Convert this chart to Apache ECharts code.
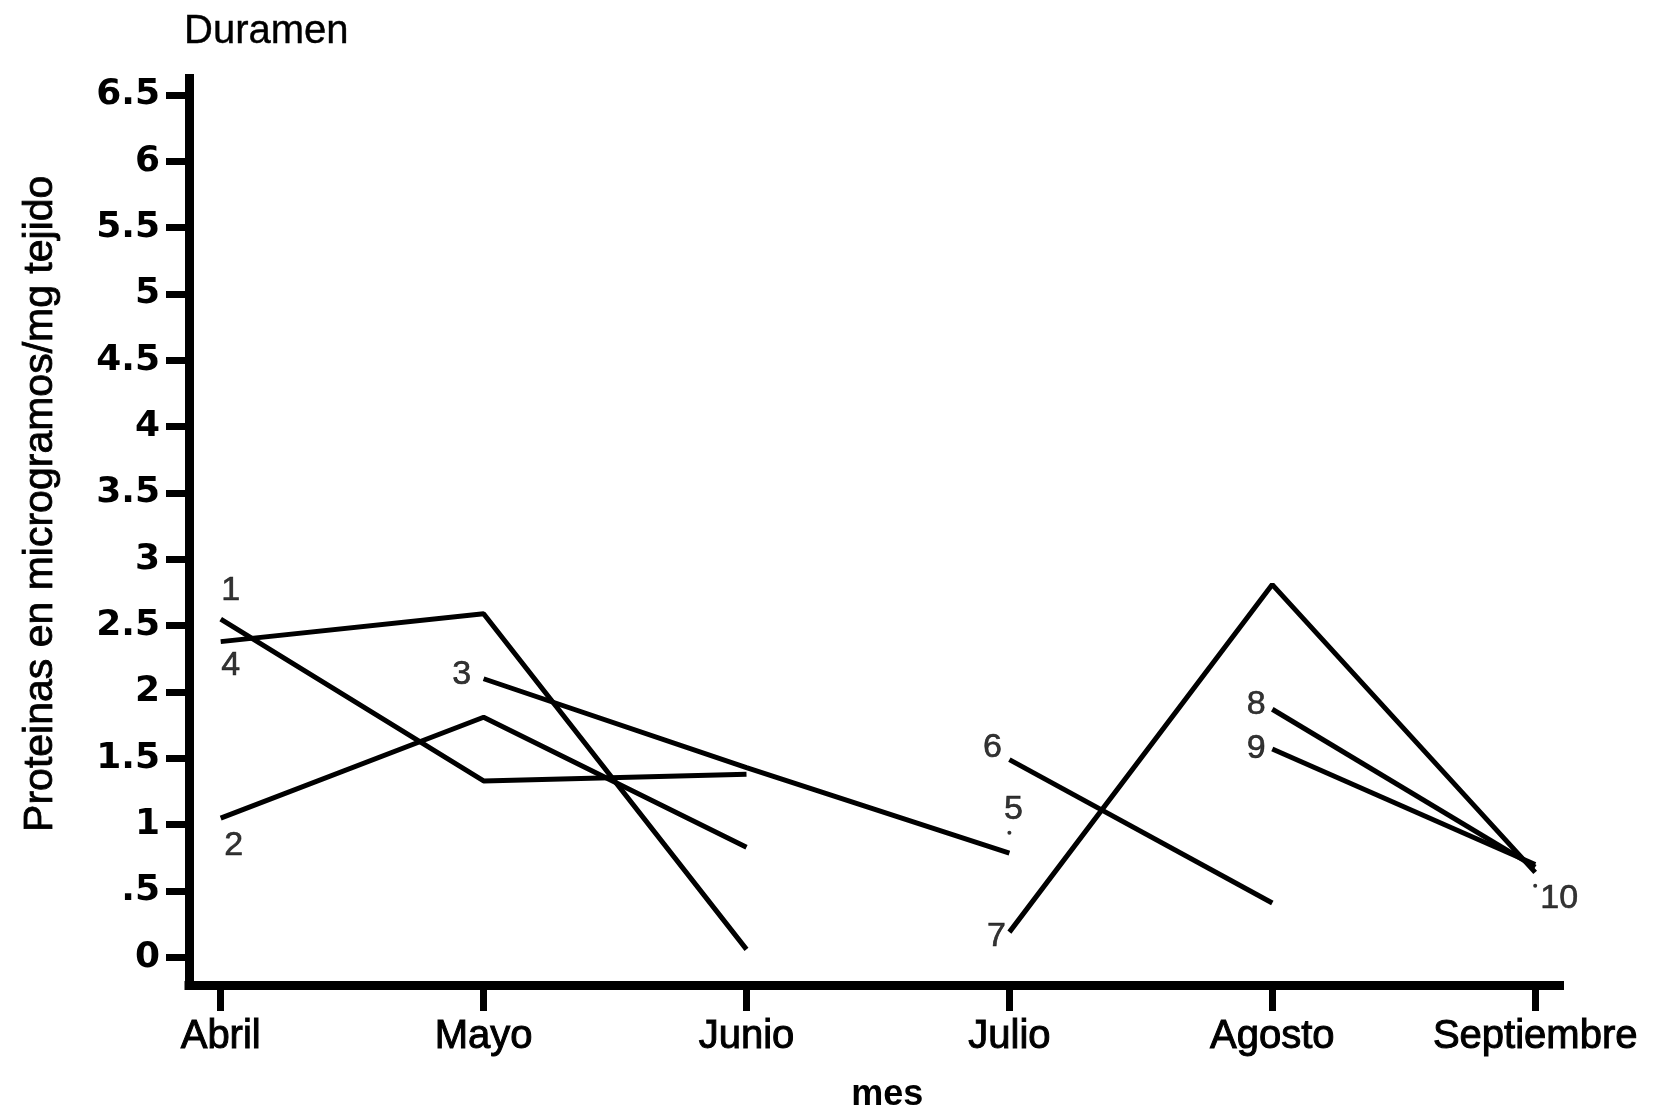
<!DOCTYPE html>
<html>
<head>
<meta charset="utf-8">
<title>Duramen</title>
<script src="https://cdn.jsdelivr.net/npm/echarts@6/dist/echarts.min.js"></script>
<style>
  html, body { margin: 0; padding: 0; background: #fff; }
  #chart { width: 1680px; height: 1118px; }
</style>
</head>
<body>
<div id="chart"></div>
<script>
// datos
const meses = ['Abril', 'Mayo', 'Junio', 'Julio', 'Agosto', 'Septiembre'];
const ticksY = [0, 0.5, 1, 1.5, 2, 2.5, 3, 3.5, 4, 4.5, 5, 5.5, 6, 6.5];
const etiquetasY = ['0', '.5', '1', '1.5', '2', '2.5', '3', '3.5', '4', '4.5', '5', '5.5', '6', '6.5'];

const serie1 = [2.55, 1.33, 1.38, null, null, null];
const serie2 = [1.05, 1.81, 0.83, null, null, null];
const serie3 = [null, 2.10, 1.43, 0.785, null, null];
const serie4 = [2.38, 2.59, 0.06, null, null, null];
const serie6 = [null, null, null, 1.49, 0.41, null];
const serie7 = [null, null, null, 0.19, 2.81, 0.64];
const serie8 = [null, null, null, null, 1.87, 0.68];
const serie9 = [null, null, null, null, 1.57, 0.70];
const punto5 = [null, null, null, 0.94, null, null];
const punto10 = [null, null, null, null, null, 0.54];

// numero de cada linea: [texto, indice del mes, valor]
const numeros = [
    ['1', 0, 2.55], ['2', 0, 1.05], ['3', 1, 2.10], ['4', 0, 2.38], ['5', 3, 0.94],
    ['6', 3, 1.49], ['7', 3, 0.19], ['8', 4, 1.87], ['9', 4, 1.57], ['10', 5, 0.54]
];
// desplazamiento de cada numero respecto a su punto (px)
const desplazamientos = [[10, -28], [13, 28], [-22, -4], [10, 24], [4, -23],
    [-17, -12], [-13, 5], [-16, -5], [-16, 0], [24, 13]];

const aPares = arr => arr.map((v, i) => [i, v]).filter(p => p[1] !== null);

var chart = echarts.init(document.getElementById('chart'));

const lineas = [serie1, serie2, serie3, serie4, serie6, serie7, serie8, serie9].map(s => ({
    type: 'line',
    data: aPares(s),
    symbol: 'none',
    lineStyle: { color: '#000', width: 5 },
    silent: true
}));

var option = {
    backgroundColor: '#fff',
    animation: false,
    title: {
        text: 'Duramen',
        left: 179,
        top: 7,
        textStyle: { fontFamily: 'Liberation Sans', fontSize: 40, fontWeight: 'normal', color: '#000',
            textBorderColor: '#000', textBorderWidth: 0.4 }
    },
    grid: { left: 189, right: 120.5, top: 78.5, bottom: 132 },
    xAxis: {
        type: 'value',
        min: -0.1206,
        max: 5.0925,
        axisLine: { show: true, onZero: false, lineStyle: { color: '#000', width: 9, cap: 'square' } },
        axisTick: { show: true, customValues: [0, 1, 2, 3, 4, 5], length: 26, lineStyle: { color: '#000', width: 7 } },
        axisLabel: {
            customValues: [0, 1, 2, 3, 4, 5],
            formatter: v => meses[v],
            margin: 32,
            fontFamily: 'Liberation Sans',
            fontSize: 40,
            color: '#000',
            textBorderColor: '#000',
            textBorderWidth: 1
        },
        splitLine: { show: false },
        name: 'mes',
        nameLocation: 'middle',
        nameGap: 92,
        nameTextStyle: { fontFamily: 'Liberation Sans', fontSize: 36, fontWeight: 'bold', color: '#000',
            padding: [0, 0, 0, 26] }
    },
    yAxis: {
        type: 'value',
        min: -0.2086,
        max: 6.625,
        axisLine: { show: true, onZero: false, lineStyle: { color: '#000', width: 9, cap: 'square' } },
        axisTick: { show: true, customValues: ticksY, length: 23, lineStyle: { color: '#000', width: 7 } },
        axisLabel: {
            customValues: ticksY,
            formatter: v => etiquetasY[ticksY.indexOf(v)],
            margin: 29,
            fontFamily: 'DejaVu Sans',
            fontWeight: 'bold',
            fontSize: 36,
            color: '#000'
        },
        splitLine: { show: false },
        name: 'Proteinas en microgramos/mg tejido',
        nameLocation: 'middle',
        nameGap: 128,
        nameTextStyle: { fontFamily: 'Liberation Sans', fontSize: 41, color: '#000', padding: [0, 0, 0, 56],
            textBorderColor: '#000', textBorderWidth: 0.8 }
    },
    series: lineas.concat([
        {
            // puntos sueltos 5 y 10
            type: 'scatter',
            data: aPares(punto5).concat(aPares(punto10)),
            symbolSize: 4,
            itemStyle: { color: '#000' },
            silent: true
        },
        {
            type: 'scatter',
            data: numeros.map((n, i) => ({
                value: [n[1], n[2], n[0]],
                label: { offset: desplazamientos[i] }
            })),
            symbolSize: 0.1,
            itemStyle: { color: '#000' },
            label: {
                show: true,
                position: 'inside',
                formatter: p => p.value[2],
                fontFamily: 'Liberation Sans',
                fontSize: 34,
                color: '#000',
                textBorderColor: '#000',
                textBorderWidth: 0.6
            },
            silent: true
        }
    ])
};

chart.setOption(option);
window.addEventListener('resize', chart.resize);
</script>
</body>
</html>
